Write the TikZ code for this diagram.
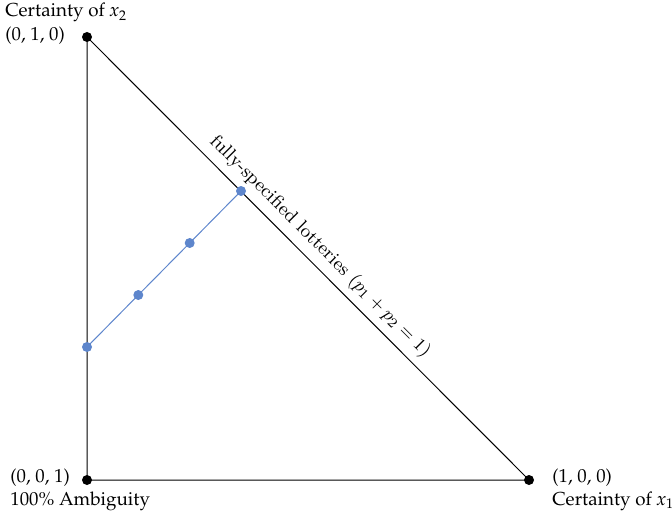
\documentclass[tikz,border=0pt]{standalone}
\usepackage{tikz}
\definecolor{dotblue}{RGB}{94,134,204}
\newcommand{\pplfont}{\fontencoding{OT1}\fontfamily{ppl}\fontsize{9.4}{11.3}\selectfont}
\tikzset{
  corner/.style={font=\pplfont, inner sep=0pt, anchor=base west},
  bdot/.style={circle, fill=black, inner sep=0pt, minimum size=5pt},
  udot/.style={circle, fill=dotblue, inner sep=0pt, minimum size=5pt},
}
\begin{document}
\begin{tikzpicture}[x=0.5pt,y=-0.5pt]
\useasboundingbox (0,0) rectangle (672,513);
% vertices
\node[bdot] (T) at (87,37) {};
\node[bdot] (L) at (87,480) {};
\node[bdot] (R) at (529,480) {};
\draw[line width=0.5pt] (T.center) -- (L.center) -- (R.center)
  -- node[pos=0.50, sloped, above, inner sep=3.5pt, font=\fontsize{9.4}{11.3}\selectfont] (lab)
     {fully-specified lotteries ($p_1+p_2=1$)} (T.center);
% blue points
\node[udot] (b0) at (87,347) {};
\node[udot] (b1) at (138.3,295) {};
\node[udot] (b2) at (189.7,243) {};
\node[udot] (b3) at (241,191) {};
\draw[dotblue, line width=0.5pt] (b0.center) -- (b1.center) -- (b2.center) -- (b3.center);
% labels
\node[corner] (tl1) at (5,17) {Certainty of \textit{x}\raisebox{-0.45ex}{\fontsize{7}{8}\selectfont 2}};
\node[corner] (tl2) at (5,41) {(0, 1, 0)};
\node[corner] (bl1) at (10,482) {(0, 0, 1)};
\node[corner] (bl2) at (10,505) {100\% Ambiguity};
\node[corner] (br1) at (552,482) {(1, 0, 0)};
\node[corner] (br2) at (552,505) {Certainty of \textit{x}\raisebox{-0.45ex}{\fontsize{7}{8}\selectfont 1}};
\end{tikzpicture}
\end{document}
